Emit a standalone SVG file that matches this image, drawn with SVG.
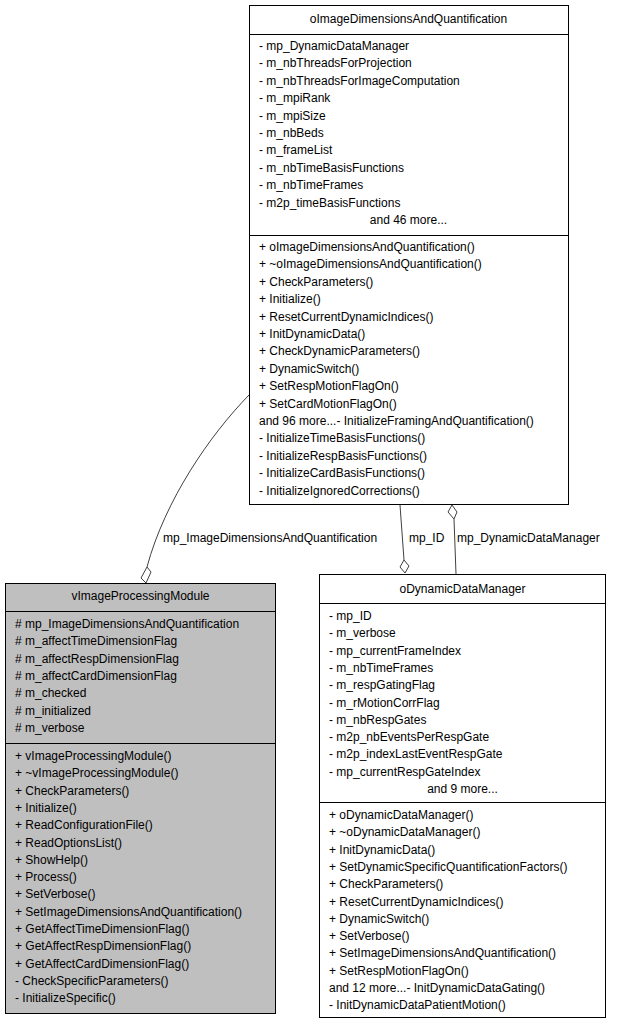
<svg xmlns="http://www.w3.org/2000/svg" width="619" height="1029" viewBox="0 0 619 1029">
<style>
text{font-family:"Liberation Sans",Arial,sans-serif;font-size:12px;fill:#000}
.c{text-anchor:middle}
.b{fill:#fff;stroke:#000;stroke-width:1}
.g{fill:#bfbfbf;stroke:#000;stroke-width:1}
.l{stroke:#000;stroke-width:1}
.e{fill:none;stroke:#404040;stroke-width:1}
.d{fill:#fff;stroke:#404040;stroke-width:1}
</style>
<rect width="619" height="1029" fill="#fff"/>
<g id="connectors">
<path class="e" d="M249,395 C210,435 165,500 147,567"/>
<polygon class="d" points="147,567 151,572 146,583 141,578"/>
<text x="163" y="542">mp_ImageDimensionsAndQuantification</text>
<path class="e" d="M400,505 L404,560"/>
<polygon class="d" points="404,560 409,566 405,573 400,567"/>
<text x="409" y="542">mp_ID</text>
<path class="e" d="M454,519 L456,574"/>
<polygon class="d" points="452,505 457,512 454,519 448,512"/>
<text x="457" y="542">mp_DynamicDataManager</text>
</g>
<g id="oImageDimensionsAndQuantification">
<rect class="b" x="249.5" y="5.5" width="319" height="499"/>
<line class="l" x1="249" y1="34.5" x2="568" y2="34.5"/>
<line class="l" x1="249" y1="235.5" x2="568" y2="235.5"/>
<text class="c" x="408.5" y="23">oImageDimensionsAndQuantification</text>
<text x="259" y="50">- mp_DynamicDataManager</text>
<text x="259" y="67.4">- m_nbThreadsForProjection</text>
<text x="259" y="84.8">- m_nbThreadsForImageComputation</text>
<text x="259" y="102.2">- m_mpiRank</text>
<text x="259" y="119.6">- m_mpiSize</text>
<text x="259" y="137">- m_nbBeds</text>
<text x="259" y="154.4">- m_frameList</text>
<text x="259" y="171.8">- m_nbTimeBasisFunctions</text>
<text x="259" y="189.2">- m_nbTimeFrames</text>
<text x="259" y="206.6">- m2p_timeBasisFunctions</text>
<text class="c" x="408.5" y="224">and 46 more...</text>
<text x="259" y="251">+ oImageDimensionsAndQuantification()</text>
<text x="259" y="268.4">+ ~oImageDimensionsAndQuantification()</text>
<text x="259" y="285.8">+ CheckParameters()</text>
<text x="259" y="303.2">+ Initialize()</text>
<text x="259" y="320.6">+ ResetCurrentDynamicIndices()</text>
<text x="259" y="338">+ InitDynamicData()</text>
<text x="259" y="355.4">+ CheckDynamicParameters()</text>
<text x="259" y="372.8">+ DynamicSwitch()</text>
<text x="259" y="390.2">+ SetRespMotionFlagOn()</text>
<text x="259" y="407.6">+ SetCardMotionFlagOn()</text>
<text x="259" y="425">and 96 more...- InitializeFramingAndQuantification()</text>
<text x="259" y="442.4">- InitializeTimeBasisFunctions()</text>
<text x="259" y="459.8">- InitializeRespBasisFunctions()</text>
<text x="259" y="477.2">- InitializeCardBasisFunctions()</text>
<text x="259" y="494.6">- InitializeIgnoredCorrections()</text>
</g>
<g id="vImageProcessingModule">
<rect class="g" x="5.5" y="583.5" width="270" height="430"/>
<line class="l" x1="5" y1="611.5" x2="275" y2="611.5"/>
<line class="l" x1="5" y1="743.5" x2="275" y2="743.5"/>
<text class="c" x="140.5" y="600">vImageProcessingModule</text>
<text x="15" y="628">#  mp_ImageDimensionsAndQuantification</text>
<text x="15" y="645.3"># m_affectTimeDimensionFlag</text>
<text x="15" y="662.6"># m_affectRespDimensionFlag</text>
<text x="15" y="679.9"># m_affectCardDimensionFlag</text>
<text x="15" y="697.2"># m_checked</text>
<text x="15" y="714.5"># m_initialized</text>
<text x="15" y="731.8"># m_verbose</text>
<text x="15" y="760">+ vImageProcessingModule()</text>
<text x="15" y="777.3">+ ~vImageProcessingModule()</text>
<text x="15" y="794.6">+ CheckParameters()</text>
<text x="15" y="811.9">+ Initialize()</text>
<text x="15" y="829.2">+ ReadConfigurationFile()</text>
<text x="15" y="846.5">+ ReadOptionsList()</text>
<text x="15" y="863.8">+ ShowHelp()</text>
<text x="15" y="881.1">+ Process()</text>
<text x="15" y="898.4">+ SetVerbose()</text>
<text x="15" y="915.7">+ SetImageDimensionsAndQuantification()</text>
<text x="15" y="933">+ GetAffectTimeDimensionFlag()</text>
<text x="15" y="950.3">+ GetAffectRespDimensionFlag()</text>
<text x="15" y="967.6">+ GetAffectCardDimensionFlag()</text>
<text x="15" y="984.9">- CheckSpecificParameters()</text>
<text x="15" y="1002.2">- InitializeSpecific()</text>
</g>
<g id="oDynamicDataManager">
<rect class="b" x="319.5" y="574.5" width="286" height="443"/>
<line class="l" x1="319" y1="603.5" x2="605" y2="603.5"/>
<line class="l" x1="319" y1="802.5" x2="605" y2="802.5"/>
<text class="c" x="462.5" y="593">oDynamicDataManager</text>
<text x="329" y="620">- mp_ID</text>
<text x="329" y="637.3">- m_verbose</text>
<text x="329" y="654.6">- mp_currentFrameIndex</text>
<text x="329" y="671.9">- m_nbTimeFrames</text>
<text x="329" y="689.2">- m_respGatingFlag</text>
<text x="329" y="706.5">- m_rMotionCorrFlag</text>
<text x="329" y="723.8">- m_nbRespGates</text>
<text x="329" y="741.1">- m2p_nbEventsPerRespGate</text>
<text x="329" y="758.4">- m2p_indexLastEventRespGate</text>
<text x="329" y="775.7">- mp_currentRespGateIndex</text>
<text class="c" x="462.5" y="793">and 9 more...</text>
<text x="329" y="819">+ oDynamicDataManager()</text>
<text x="329" y="836.3">+ ~oDynamicDataManager()</text>
<text x="329" y="853.6">+ InitDynamicData()</text>
<text x="329" y="870.9">+ SetDynamicSpecificQuantificationFactors()</text>
<text x="329" y="888.2">+ CheckParameters()</text>
<text x="329" y="905.5">+ ResetCurrentDynamicIndices()</text>
<text x="329" y="922.8">+ DynamicSwitch()</text>
<text x="329" y="940.1">+ SetVerbose()</text>
<text x="329" y="957.4">+ SetImageDimensionsAndQuantification()</text>
<text x="329" y="974.7">+ SetRespMotionFlagOn()</text>
<text x="329" y="992">and 12 more...- InitDynamicDataGating()</text>
<text x="329" y="1009.3">- InitDynamicDataPatientMotion()</text>
</g>
</svg>
